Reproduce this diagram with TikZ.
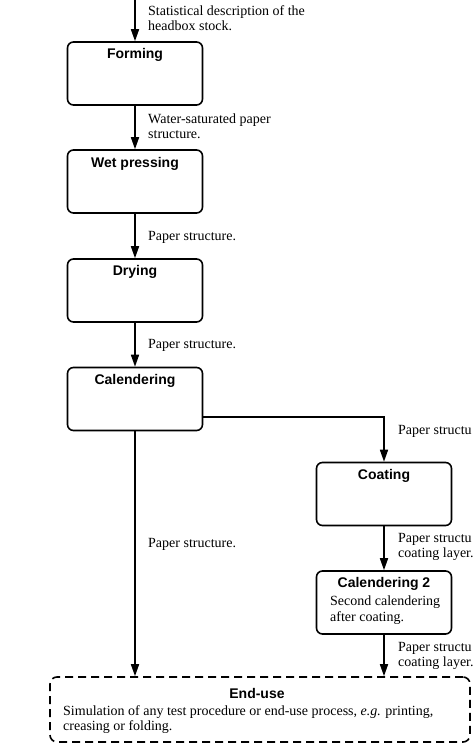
\documentclass[tikz,border=0pt]{standalone}
\usepackage{fontspec}
\setmainfont{Liberation Serif}
\newfontfamily\hv{Liberation Sans}
\usetikzlibrary{arrows.meta}
\begin{document}
\begin{tikzpicture}[x=1pt,y=-1pt,
  procbox/.style={draw, rounded corners=6pt, line width=1.6pt, minimum width=135pt, minimum height=63pt, inner sep=0pt},
  ttl/.style={font=\hv\bfseries\fontsize{14}{16}\selectfont, inner sep=0pt},
  lbl/.style={font=\fontsize{14}{15}\selectfont, align=left, anchor=west, inner sep=0pt},
  body/.style={font=\fontsize{14}{15.5}\selectfont, align=left, anchor=north west, inner sep=0pt},
  arr/.style={line width=1.6pt, -{Triangle[length=12pt,width=8pt]}}]
\useasboundingbox (0,0) rectangle (474,745);
% boxes
\node[procbox] (forming) at (135,73.5) {};
\node[procbox] (wet) at (135,181.5) {};
\node[procbox] (drying) at (135,290.5) {};
\node[procbox] (cal) at (135,399) {};
\node[procbox] (coat) at (384,494) {};
\node[procbox] (cal2) at (384,602.5) {};
\node[draw, dashed, dash pattern=on 8pt off 5pt, rounded corners=7pt, line width=1.6pt, minimum width=420pt, minimum height=65pt, inner sep=0pt] (enduse) at (260,709.5) {};
% titles
\node[ttl] (tforming) at (135,55) {Forming};
\node[ttl] (twet) at (135,164) {Wet pressing};
\node[ttl] (tdrying) at (135,272) {Drying};
\node[ttl] (tcal) at (135,381) {Calendering};
\node[ttl] (tcoat) at (384,476) {Coating};
\node[ttl] (tcal2) at (384,584) {Calendering 2};
\node[body] (bcal2) at (330,596) {Second calendering\\after coating.};
\node[ttl] (tend) at (257,693) {End-use};
\node[body] (bend) at (63,705) {Simulation of any test procedure or end-use process, \emph{e.g.} printing,\\creasing or folding.};
% connectors
\coordinate (start) at (135,0);
\draw[arr] (start) -- (forming.north);
\draw[arr] (forming.south) -- (wet.north);
\draw[arr] (wet.south) -- (drying.north);
\draw[arr] (drying.south) -- (cal.north);
\draw[arr] (cal.south) -- (cal.south |- enduse.north);
\draw[arr] ([yshift=-18pt]cal.east) -| (coat.north);
\draw[arr] (coat.south) -- (cal2.north);
\draw[arr] (cal2.south) -- (cal2.south |- enduse.north);
% labels
\node[lbl] (l0) at (148,18.5) {Statistical description of the\\headbox stock.};
\node[lbl] (l1) at (148,126) {Water-saturated paper\\structure.};
\node[lbl] (l2) at (148,237) {Paper structure.};
\node[lbl] (l3) at (148,345) {Paper structure.};
\node[lbl] (l4) at (148,544) {Paper structure.};
\node[lbl] (l5) at (398,431) {Paper structu};
\node[lbl] (l6) at (398,547) {Paper structu\\coating layer.};
\node[lbl] (l7) at (398,655.5) {Paper structu\\coating layer.};
\end{tikzpicture}
\end{document}
